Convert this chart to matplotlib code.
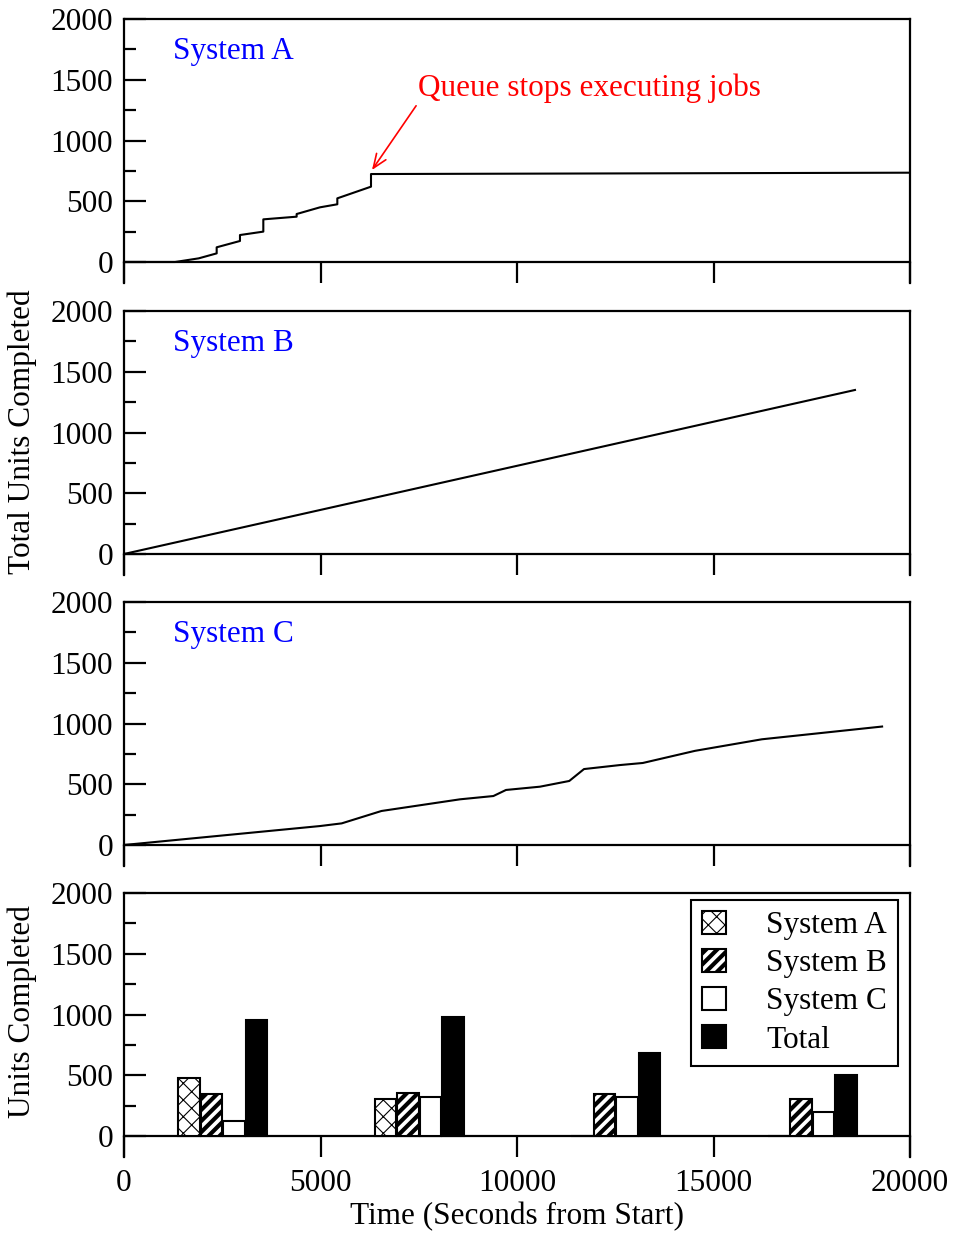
#!/usr/bin/env python3
"""Cumulative units completed per system, plus per-interval bar summary."""
import numpy as np
import matplotlib.pyplot as plt
from matplotlib.patches import Patch

plt.rcParams.update({"font.family": ["Liberation Serif", "DejaVu Serif"],
                     "font.size": 22.5, "hatch.linewidth": 1.0,
                     "axes.linewidth": 1.6})

# System A: cumulative units (step-like growth, then flat after the queue stops)
a_time = [0, 1300, 1900, 2358, 2358, 2951, 2951, 3545, 3545, 4393, 4393,
          4987, 5428, 5428, 6285, 6285, 20000]
a_units = [0, 0, 30, 71, 121, 173, 222, 250, 351, 373, 395,
           450, 475, 524, 620, 724, 735]

# System B: steady growth
b_time = [0, 18600]
b_units = [0, 1350]

# System C
c_time = [0, 4987, 5539, 6552, 8550, 9399, 9720, 10585, 11330, 11705,
          12620, 13200, 14530, 16230, 19290]
c_units = [0, 156, 178, 280, 376, 403, 453, 480, 527, 625,
           658, 675, 775, 870, 975]

# Per-interval completions (bars)
interval_start = [0, 5000, 10000, 15000]
bar_a = [475, 302, 0, 0]
bar_b = [348, 351, 348, 302]
bar_c = [123, 323, 323, 197]
bar_total = [955, 979, 680, 502]

FIG_W, FIG_H = 956, 1234
LEFT, RIGHT = 124, 910
PANEL_TOPS = [19, 311, 602, 893]
YMIN, YMAX = -175, 2000
PX_PER_UNIT = 243 / 2000.0
BLUE, RED = "#0000ff", "#ff0000"

fig = plt.figure(figsize=(FIG_W / 100, FIG_H / 100), dpi=100)
axes = []
for top in PANEL_TOPS:
    h = (YMAX - YMIN) * PX_PER_UNIT
    ax = fig.add_axes([LEFT / FIG_W, 1 - (top + h) / FIG_H,
                       (RIGHT - LEFT) / FIG_W, h / FIG_H])
    ax.set_xlim(0, 20000)
    ax.set_ylim(YMIN, YMAX)
    ax.spines["bottom"].set_position(("data", 0))
    ax.set_xticks([0, 5000, 10000, 15000, 20000])
    ax.set_yticks([0, 500, 1000, 1500, 2000])
    ax.set_yticks(np.arange(250, 2000, 500), minor=True)
    ax.tick_params(axis="y", which="major", direction="in", length=16,
                   width=1.6, pad=8, right=False)
    ax.tick_params(axis="y", which="minor", direction="in", length=8.5,
                   width=1.6, right=False)
    ax.tick_params(axis="x", which="major", direction="out", length=15,
                   width=1.6, pad=9, top=False)
    ax.tick_params(axis="x", which="minor", bottom=False)
    axes.append(ax)

for ax in axes[:3]:
    ax.tick_params(axis="x", labelbottom=False)

ax_a, ax_b, ax_c, ax_d = axes
ax_a.plot(a_time, a_units, color="black", linewidth=1.5)
ax_b.plot(b_time, b_units, color="black", linewidth=1.5)
ax_c.plot(c_time, c_units, color="black", linewidth=1.5)

for ax, name in zip(axes[:3], ["System A", "System B", "System C"]):
    ax.text(1247, 1735, name, color=BLUE, ha="left", va="center")

ax_a.annotate("Queue stops executing jobs", xy=(6310, 757),
              xytext=(7481, 1430), color=RED, ha="left", va="center",
              arrowprops=dict(arrowstyle="->,head_length=0.45,head_width=0.18",
                              color=RED, linewidth=1.2,
                              shrinkA=0, shrinkB=0,
                              relpos=(0.0, 0.0)))

# bars
starts = np.array(interval_start, dtype=float)
width, step = 550, 575
styles = [
    (bar_a, dict(facecolor="white", hatch="xx"), "System A", 0.8),
    (bar_b, dict(facecolor="white", hatch="///"), "System B", 3.0),
    (bar_c, dict(facecolor="white"), "System C", 1.0),
    (bar_total, dict(facecolor="black"), "Total", 1.0),
]


def set_hlw(patch, lw):
    if hasattr(patch, "set_hatch_linewidth"):
        patch.set_hatch_linewidth(lw)


handles = []
for i, (vals, st, label, hlw) in enumerate(styles):
    bars = ax_d.bar(starts + 1650 + i * step, vals, width=width,
                    edgecolor="black", linewidth=1.5, zorder=3, **st)
    for b in bars:
        set_hlw(b, hlw)
    hp = Patch(edgecolor="black", linewidth=1.5, label=label, **st)
    set_hlw(hp, hlw)
    handles.append(hp)

leg = ax_d.legend(handles=handles, loc="upper right",
                  bbox_to_anchor=(0.9847, 0.9735), frameon=True, fancybox=False,
                  edgecolor="black", framealpha=1, handlelength=0.75,
                  handleheight=0.75, handletextpad=1.3, borderpad=0.35,
                  labelspacing=0.28, borderaxespad=0)
leg.get_frame().set_linewidth(1.5)
for h in leg.legend_handles:
    set_hlw(h, 0.8 if h.get_label() == "System A" else 3.0)

fig.text(22 / FIG_W, 1 - 432 / FIG_H, "Total Units Completed", rotation=90,
         ha="center", va="center")
fig.text(22 / FIG_W, 1 - 1012 / FIG_H, "Units Completed", rotation=90,
         ha="center", va="center")
fig.text(517 / FIG_W, 1 - 1217 / FIG_H, "Time (Seconds from Start)",
         ha="center", va="center")

fig.savefig("out.png", dpi=100)
